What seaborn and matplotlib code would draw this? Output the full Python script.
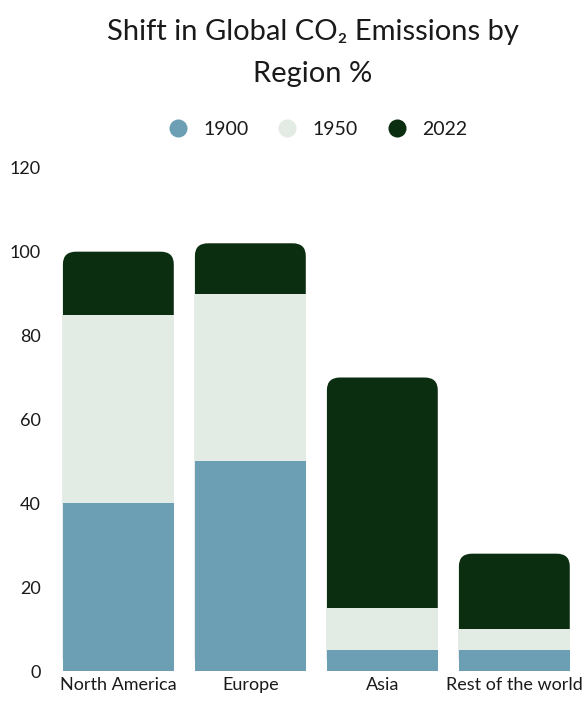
import seaborn as sns
import matplotlib.pyplot as plt
import pandas as pd
from matplotlib.patches import FancyBboxPatch
from matplotlib.lines import Line2D

# Datos (porcentaje de emisiones por región)
regions = ["North America", "Europe", "Asia", "Rest of the world"]
years = ["1900", "1950", "2022"]
v1900 = [40, 50, 5, 5]
v1950 = [45, 40, 10, 5]
v2022 = [15, 12, 55, 18]
colors = {"1900": "#6d9fb4", "1950": "#e2ebe4", "2022": "#0b2e10"}

df = pd.DataFrame({"region": regions, "1900": v1900, "1950": v1950, "2022": v2022})
df["c1950"] = df["1900"] + df["1950"]
df["c2022"] = df["c1950"] + df["2022"]

sns.set_style("white")
plt.rcParams["font.family"] = ["Lato", "DejaVu Sans"]
plt.rcParams["text.color"] = "#1a1a1a"

fig = plt.figure(figsize=(5.85, 7.02), dpi=100)
ax = fig.add_axes([0.094, 0.044, 0.889, 0.717])

# Capa superior (total) con esquinas redondeadas
sns.barplot(data=df, x="region", y="c2022", color=colors["2022"], width=0.84,
            saturation=1, linewidth=0, ax=ax)
for p in list(ax.patches):
    x, y, w, h = p.get_x(), p.get_y(), p.get_width(), p.get_height()
    p.remove()
    ax.add_patch(FancyBboxPatch((x, y), w, h,
                                boxstyle="round,pad=0,rounding_size=0.1",
                                mutation_aspect=30, facecolor=colors["2022"],
                                edgecolor="none"))

sns.barplot(data=df, x="region", y="c1950", color=colors["1950"], width=0.84,
            saturation=1, linewidth=0, ax=ax)
sns.barplot(data=df, x="region", y="1900", color=colors["1900"], width=0.84,
            saturation=1, linewidth=0, ax=ax)

ax.set_ylim(0, 120)
ax.set_xlim(-0.48, 3.46)
ax.set_yticks(range(0, 121, 20))
ax.set_xlabel("")
ax.set_ylabel("")
ax.tick_params(axis="both", length=0, labelsize=13, colors="#1a1a1a")
ax.tick_params(axis="y", pad=10)
ax.tick_params(axis="x", pad=4)
sns.despine(ax=ax, left=True, bottom=True)

fig.text(0.535, 0.955, "Shift in Global CO₂ Emissions by", ha="center", va="center",
         fontsize=21, color="#1a1a1a")
fig.text(0.535, 0.895, "Region %", ha="center", va="center", fontsize=21,
         color="#1a1a1a")

handles = [Line2D([0], [0], marker="o", linestyle="", markersize=13,
                  markerfacecolor=colors[yr], markeredgecolor="none") for yr in years]
fig.legend(handles, years, loc="center", bbox_to_anchor=(0.535, 0.816), ncol=3,
           frameon=False, fontsize=14, handletextpad=0.3, columnspacing=1.0,
           labelcolor="#1a1a1a")

plt.savefig("out.png", dpi=100)
